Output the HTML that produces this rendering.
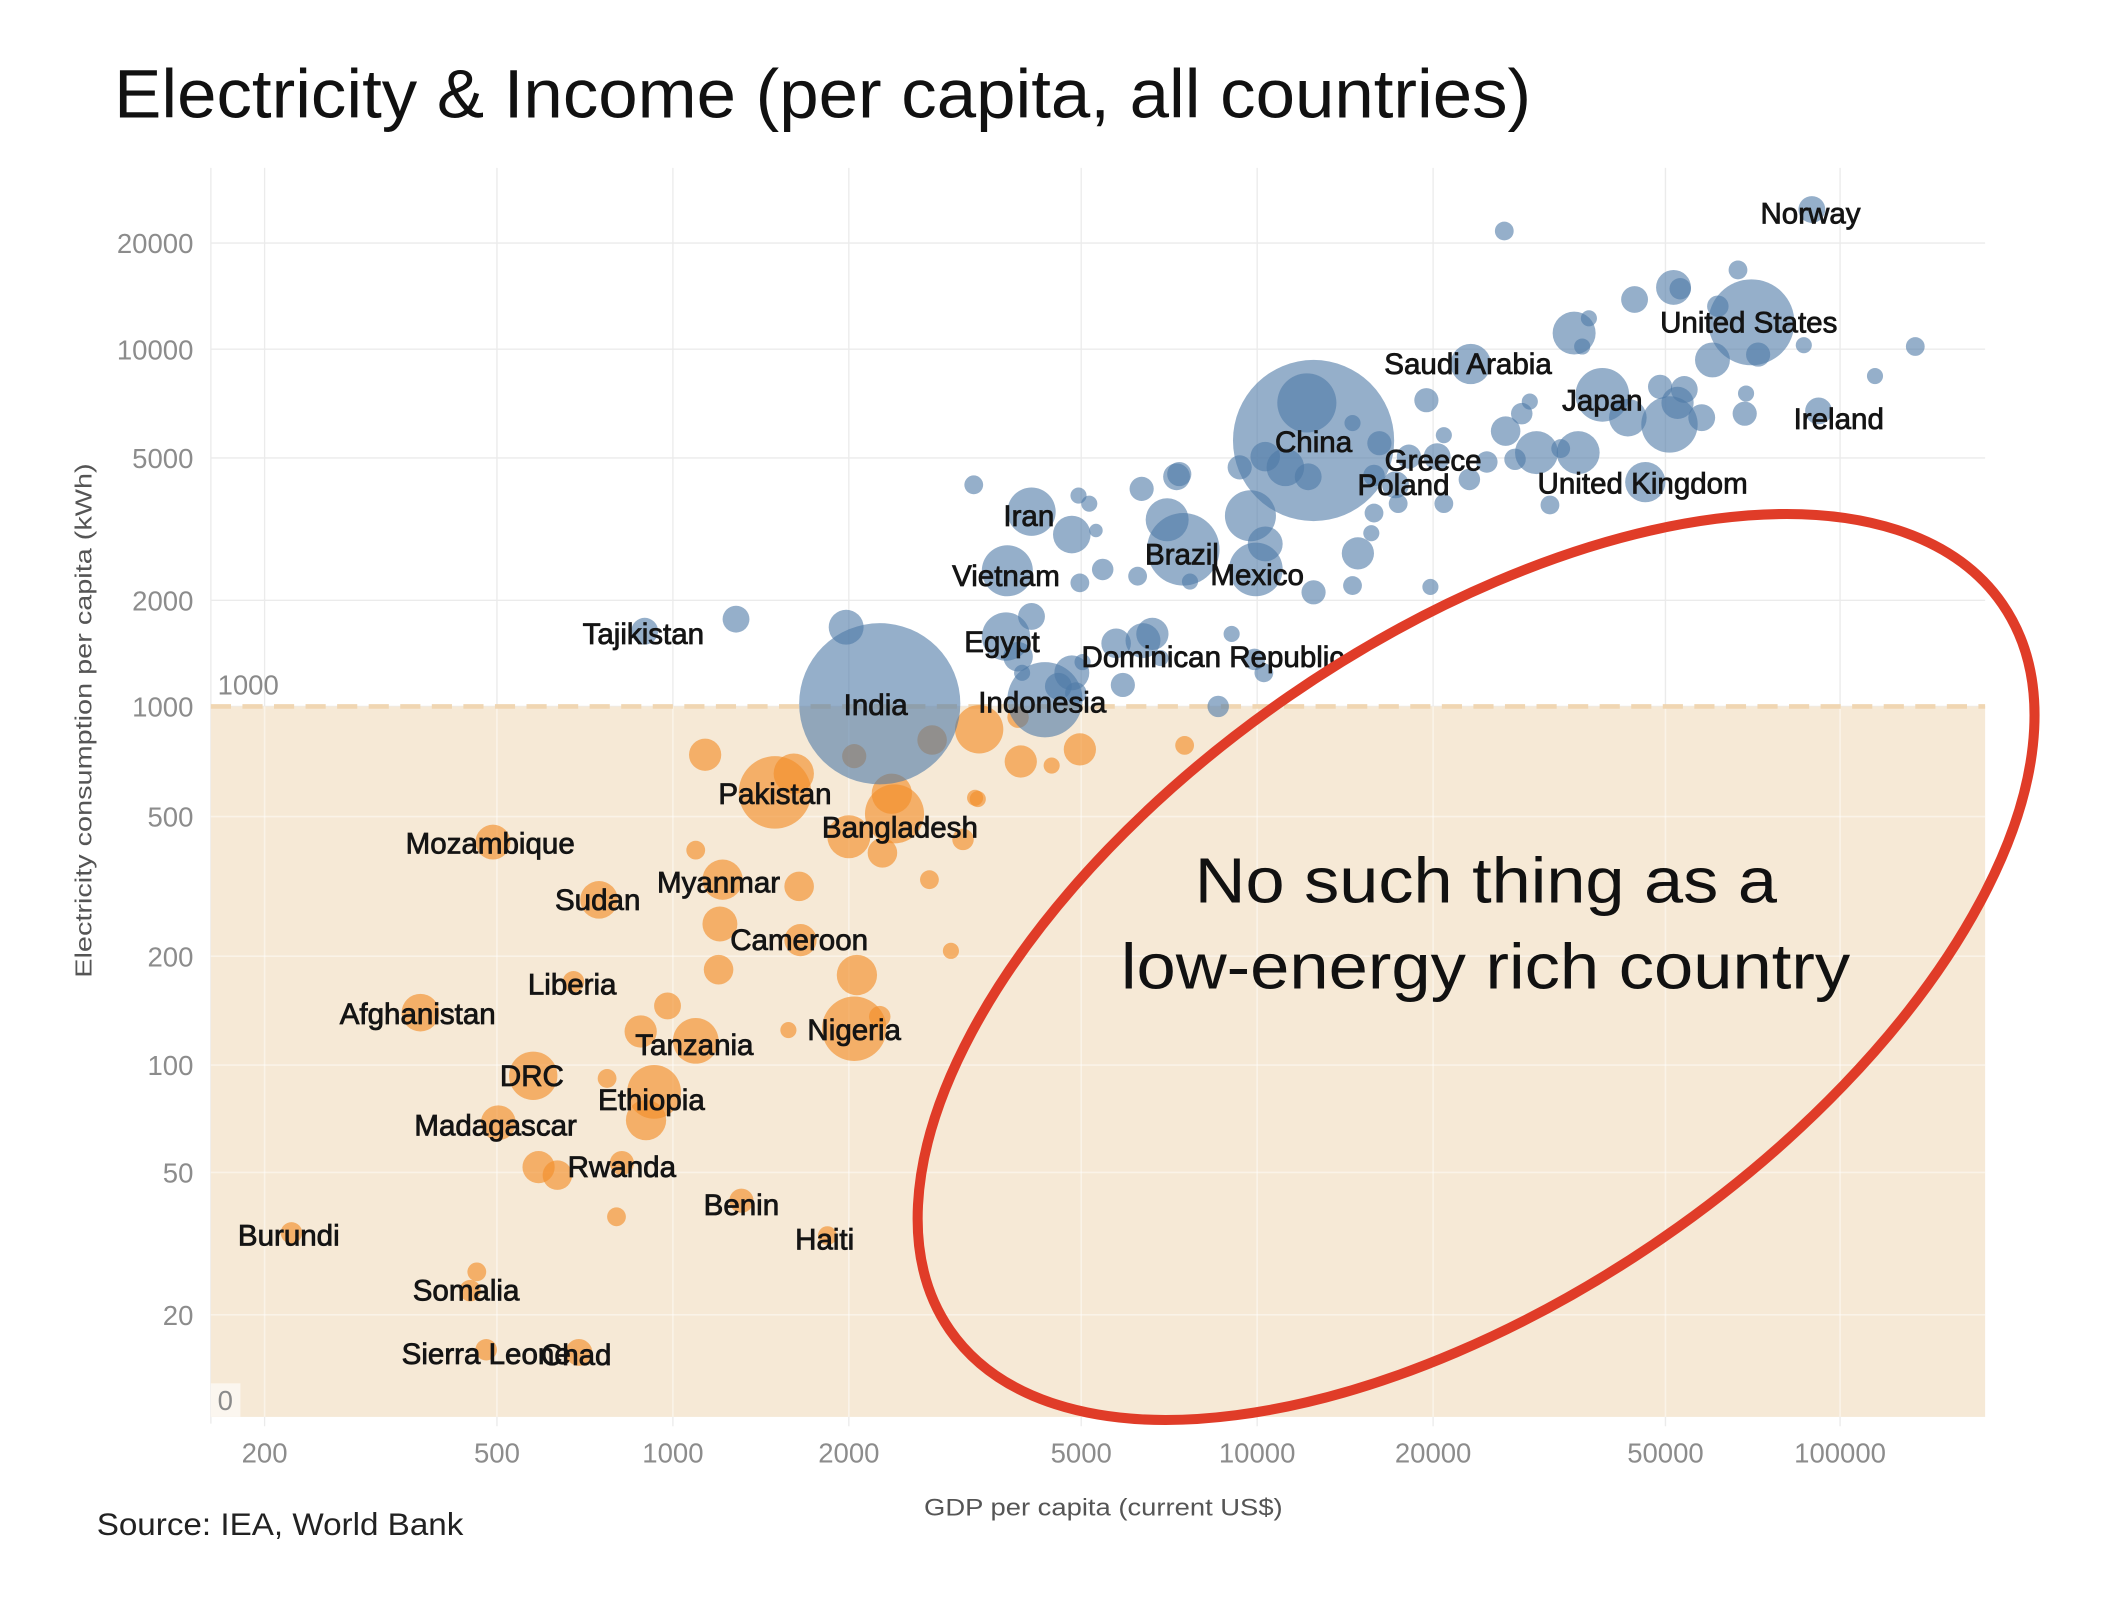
<!DOCTYPE html>
<html>
<head>
<meta charset="utf-8">
<style>
html,body{margin:0;padding:0;background:#fff;}
svg{display:block;}
text{font-family:"Liberation Sans", Arial, sans-serif;}
</style>
</head>
<body>
<svg width="2106" height="1606" viewBox="0 0 1568 1195.8" preserveAspectRatio="none" xmlns="http://www.w3.org/2000/svg">
<rect x="0" y="0" width="1568" height="1196" fill="#ffffff"/>

<!-- Title -->
<text x="85" y="87.5" font-size="51" fill="#111" textLength="1055" lengthAdjust="spacingAndGlyphs">Electricity &amp; Income (per capita, all countries)</text>

<!-- gray gridlines -->
<g stroke="#ebebeb" stroke-width="1">
  <line x1="157" y1="181" x2="1478" y2="181"/>
  <line x1="157" y1="260" x2="1478" y2="260"/>
  <line x1="157" y1="341" x2="1478" y2="341"/>
  <line x1="157" y1="447" x2="1478" y2="447"/>
  <line x1="157" y1="526" x2="1478" y2="526"/>
  <line x1="157" y1="125" x2="157" y2="1060"/>
  <line x1="197" y1="125" x2="197" y2="1062"/>
  <line x1="370" y1="125" x2="370" y2="1062"/>
  <line x1="501" y1="125" x2="501" y2="1062"/>
  <line x1="632" y1="125" x2="632" y2="1062"/>
  <line x1="805" y1="125" x2="805" y2="1062"/>
  <line x1="936" y1="125" x2="936" y2="1062"/>
  <line x1="1067" y1="125" x2="1067" y2="1062"/>
  <line x1="1240" y1="125" x2="1240" y2="1062"/>
  <line x1="1370" y1="125" x2="1370" y2="1062"/>
</g>

<!-- band below 1000 -->
<rect x="157" y="526" width="1321" height="529" fill="#f6e9d6"/>
<g stroke="#ffffff" stroke-opacity="0.45" stroke-width="1.2">
  <line x1="157" y1="608" x2="1478" y2="608"/>
  <line x1="157" y1="712" x2="1478" y2="712"/>
  <line x1="157" y1="793" x2="1478" y2="793"/>
  <line x1="157" y1="873" x2="1478" y2="873"/>
  <line x1="157" y1="979" x2="1478" y2="979"/>
  <line x1="197" y1="526" x2="197" y2="1055"/>
  <line x1="370" y1="526" x2="370" y2="1055"/>
  <line x1="501" y1="526" x2="501" y2="1055"/>
  <line x1="632" y1="526" x2="632" y2="1055"/>
  <line x1="805" y1="526" x2="805" y2="1055"/>
  <line x1="936" y1="526" x2="936" y2="1055"/>
  <line x1="1067" y1="526" x2="1067" y2="1055"/>
  <line x1="1240" y1="526" x2="1240" y2="1055"/>
  <line x1="1370" y1="526" x2="1370" y2="1055"/>
</g>
<line x1="157" y1="526" x2="1478" y2="526" stroke="#f0d6b2" stroke-width="3.5" stroke-dasharray="15 8.5"/>

<!-- band labels -->
<text x="162" y="517" font-size="20.5" fill="#8a8a8a">1000</text>
<rect x="157" y="1030" width="22" height="25" fill="#fbf6ef"/>
<text x="162" y="1050" font-size="20.5" fill="#8a8a8a">0</text>

<!-- Y tick labels -->
<g font-size="20.5" fill="#8c8c8c" text-anchor="end">
  <text x="144" y="188.5">20000</text>
  <text x="144" y="267.5">10000</text>
  <text x="144" y="348.5">5000</text>
  <text x="144" y="454.5">2000</text>
  <text x="144" y="533.5">1000</text>
  <text x="144" y="615.5">500</text>
  <text x="144" y="719.5">200</text>
  <text x="144" y="800.5">100</text>
  <text x="144" y="880.5">50</text>
  <text x="144" y="986.5">20</text>
</g>

<!-- X tick labels -->
<g font-size="20.5" fill="#8c8c8c" text-anchor="middle">
  <text x="197" y="1089">200</text>
  <text x="370" y="1089">500</text>
  <text x="501" y="1089">1000</text>
  <text x="632" y="1089">2000</text>
  <text x="805" y="1089">5000</text>
  <text x="936" y="1089">10000</text>
  <text x="1067" y="1089">20000</text>
  <text x="1240" y="1089">50000</text>
  <text x="1370" y="1089">100000</text>
</g>

<!-- Axis titles -->
<text x="688" y="1128.5" font-size="18" fill="#555" textLength="267" lengthAdjust="spacingAndGlyphs">GDP per capita (current US$)</text>
<text transform="translate(68,728) rotate(-90)" x="0" y="0" font-size="17" fill="#555" textLength="383" lengthAdjust="spacingAndGlyphs">Electricity consumption per capita (kWh)</text>

<!-- Source -->
<text x="72" y="1143" font-size="23.5" fill="#222" textLength="273" lengthAdjust="spacingAndGlyphs">Source: IEA, World Bank</text>

<!-- Orange bubbles -->
<g fill="#f28e2b" fill-opacity="0.64">
  <circle cx="525" cy="562" r="12"/>
  <circle cx="577" cy="590" r="27"/>
  <circle cx="591" cy="576" r="15"/>
  <circle cx="664" cy="591" r="15"/>
  <circle cx="666" cy="606" r="22"/>
  <circle cx="632" cy="623" r="16"/>
  <circle cx="657" cy="635" r="11"/>
  <circle cx="717" cy="625" r="8"/>
  <circle cx="692" cy="655" r="7"/>
  <circle cx="726" cy="594" r="6"/>
  <circle cx="804" cy="558" r="12"/>
  <circle cx="783" cy="570" r="6"/>
  <circle cx="760" cy="567" r="12"/>
  <circle cx="729" cy="543" r="18"/>
  <circle cx="758" cy="534" r="8"/>
  <circle cx="728" cy="595" r="6"/>
  <circle cx="882" cy="555" r="7"/>
  <circle cx="636" cy="563" r="9"/>
  <circle cx="694" cy="551" r="11"/>
  <circle cx="367" cy="627" r="13"/>
  <circle cx="518" cy="633" r="7"/>
  <circle cx="538" cy="655" r="15"/>
  <circle cx="595" cy="660" r="11"/>
  <circle cx="446" cy="670" r="14"/>
  <circle cx="536" cy="688" r="13"/>
  <circle cx="596" cy="700" r="12"/>
  <circle cx="708" cy="708" r="6"/>
  <circle cx="535" cy="722" r="11"/>
  <circle cx="638" cy="726" r="15"/>
  <circle cx="427" cy="731" r="8"/>
  <circle cx="313" cy="754" r="14"/>
  <circle cx="497" cy="749" r="10"/>
  <circle cx="477" cy="768" r="12"/>
  <circle cx="518" cy="775" r="17"/>
  <circle cx="587" cy="767" r="6"/>
  <circle cx="636" cy="766" r="24"/>
  <circle cx="655" cy="757" r="8"/>
  <circle cx="397" cy="801" r="18"/>
  <circle cx="452" cy="803" r="7"/>
  <circle cx="487" cy="813" r="20"/>
  <circle cx="481" cy="834" r="15"/>
  <circle cx="371" cy="836" r="13"/>
  <circle cx="401" cy="869" r="12"/>
  <circle cx="415" cy="875" r="11"/>
  <circle cx="463" cy="866" r="9"/>
  <circle cx="459" cy="906" r="7"/>
  <circle cx="552" cy="894" r="9"/>
  <circle cx="616" cy="920" r="7"/>
  <circle cx="217" cy="918" r="8"/>
  <circle cx="355" cy="947" r="7"/>
  <circle cx="350" cy="961" r="8"/>
  <circle cx="362" cy="1005" r="8"/>
  <circle cx="431" cy="1007" r="10"/>
</g>

<!-- Blue bubbles -->
<g fill="#4e79a7" fill-opacity="0.6">
  <circle cx="1349" cy="156" r="10"/>
  <circle cx="1120" cy="172" r="7"/>
  <circle cx="1294" cy="201" r="7"/>
  <circle cx="1246" cy="214" r="13"/>
  <circle cx="1251" cy="215" r="8"/>
  <circle cx="1217" cy="223" r="10"/>
  <circle cx="1304" cy="240" r="32"/>
  <circle cx="1279" cy="228" r="8"/>
  <circle cx="1309" cy="264" r="9"/>
  <circle cx="1275" cy="268" r="13"/>
  <circle cx="1172" cy="248" r="16"/>
  <circle cx="1183" cy="237" r="6"/>
  <circle cx="1178" cy="258" r="6"/>
  <circle cx="1343" cy="257" r="6"/>
  <circle cx="1426" cy="258" r="7"/>
  <circle cx="1396" cy="280" r="6"/>
  <circle cx="1095" cy="271" r="15"/>
  <circle cx="1062" cy="298" r="9"/>
  <circle cx="1193" cy="294" r="20"/>
  <circle cx="1133" cy="308" r="8"/>
  <circle cx="1139" cy="299" r="6"/>
  <circle cx="1121" cy="321" r="11"/>
  <circle cx="1075" cy="324" r="6"/>
  <circle cx="1236" cy="288" r="9"/>
  <circle cx="1254" cy="290" r="10"/>
  <circle cx="1212" cy="311" r="14"/>
  <circle cx="1243" cy="316" r="21"/>
  <circle cx="1267" cy="311" r="10"/>
  <circle cx="1299" cy="308" r="9"/>
  <circle cx="1300" cy="293" r="6"/>
  <circle cx="1249" cy="300" r="12"/>
  <circle cx="1354" cy="306" r="10"/>
  <circle cx="978" cy="328" r="60"/>
  <circle cx="973" cy="300" r="22"/>
  <circle cx="1007" cy="315" r="6"/>
  <circle cx="1027" cy="330" r="9"/>
  <circle cx="923" cy="348" r="9"/>
  <circle cx="942" cy="340" r="11"/>
  <circle cx="957" cy="348" r="14"/>
  <circle cx="974" cy="355" r="10"/>
  <circle cx="878" cy="353" r="9"/>
  <circle cx="850" cy="364" r="9"/>
  <circle cx="931" cy="384" r="19"/>
  <circle cx="942" cy="405" r="13"/>
  <circle cx="935" cy="424" r="20"/>
  <circle cx="1023" cy="382" r="7"/>
  <circle cx="1021" cy="397" r="6"/>
  <circle cx="1011" cy="412" r="12"/>
  <circle cx="1007" cy="436" r="7"/>
  <circle cx="978" cy="441" r="9"/>
  <circle cx="1065" cy="437" r="6"/>
  <circle cx="1049" cy="340" r="9"/>
  <circle cx="1070" cy="340" r="10"/>
  <circle cx="1023" cy="354" r="8"/>
  <circle cx="1041" cy="375" r="7"/>
  <circle cx="1075" cy="375" r="7"/>
  <circle cx="1039" cy="361" r="10"/>
  <circle cx="1094" cy="357" r="8"/>
  <circle cx="1107" cy="344" r="8"/>
  <circle cx="1144" cy="337" r="16"/>
  <circle cx="1175" cy="337" r="16"/>
  <circle cx="1162" cy="334" r="7"/>
  <circle cx="1128" cy="342" r="8"/>
  <circle cx="1154" cy="376" r="7"/>
  <circle cx="1225" cy="359" r="15"/>
  <circle cx="869" cy="387" r="16"/>
  <circle cx="881" cy="409" r="27"/>
  <circle cx="886" cy="433" r="6"/>
  <circle cx="847" cy="429" r="7"/>
  <circle cx="876" cy="355" r="10"/>
  <circle cx="768" cy="381" r="18"/>
  <circle cx="798" cy="398" r="14"/>
  <circle cx="803" cy="369" r="6"/>
  <circle cx="811" cy="375" r="6"/>
  <circle cx="816" cy="395" r="5"/>
  <circle cx="821" cy="424" r="8"/>
  <circle cx="804" cy="434" r="7"/>
  <circle cx="725" cy="361" r="7"/>
  <circle cx="750" cy="425" r="19"/>
  <circle cx="749" cy="474" r="18"/>
  <circle cx="768" cy="459" r="10"/>
  <circle cx="758" cy="489" r="11"/>
  <circle cx="761" cy="501" r="6"/>
  <circle cx="630" cy="467" r="13"/>
  <circle cx="548" cy="461" r="10"/>
  <circle cx="480" cy="470" r="10"/>
  <circle cx="655" cy="524" r="60"/>
  <circle cx="778" cy="521" r="28"/>
  <circle cx="798" cy="501" r="13"/>
  <circle cx="788" cy="511" r="10"/>
  <circle cx="806" cy="493" r="6"/>
  <circle cx="801" cy="516" r="8"/>
  <circle cx="836" cy="510" r="9"/>
  <circle cx="851" cy="477" r="13"/>
  <circle cx="858" cy="472" r="12"/>
  <circle cx="831" cy="479" r="11"/>
  <circle cx="864" cy="490" r="6"/>
  <circle cx="917" cy="472" r="6"/>
  <circle cx="907" cy="526" r="8"/>
  <circle cx="941" cy="501" r="7"/>
  <circle cx="934" cy="491" r="8"/>
</g>

<!-- Country labels -->
<g font-size="22" fill="#141414" stroke="#141414" stroke-width="0.6" text-anchor="middle">
  <text x="1348" y="166.5">Norway</text>
  <text x="1302" y="247.5">United States</text>
  <text x="1093" y="278.5">Saudi Arabia</text>
  <text x="1193" y="305.5">Japan</text>
  <text x="1369" y="319.5">Ireland</text>
  <text x="978" y="336.5">China</text>
  <text x="1067" y="350.5">Greece</text>
  <text x="1045" y="368.5">Poland</text>
  <text x="1223" y="367.5">United Kingdom</text>
  <text x="766" y="391.5">Iran</text>
  <text x="880" y="420.5">Brazil</text>
  <text x="936" y="435.5">Mexico</text>
  <text x="749" y="436.5">Vietnam</text>
  <text x="479" y="479.5">Tajikistan</text>
  <text x="746" y="485.5">Egypt</text>
  <text x="903" y="496.5">Dominican Republic</text>
  <text x="652" y="532.5">India</text>
  <text x="776" y="530.5">Indonesia</text>
  <text x="577" y="598.5">Pakistan</text>
  <text x="670" y="623.5">Bangladesh</text>
  <text x="365" y="635.5">Mozambique</text>
  <text x="535" y="664.5">Myanmar</text>
  <text x="445" y="677.5">Sudan</text>
  <text x="595" y="707.5">Cameroon</text>
  <text x="426" y="740.5">Liberia</text>
  <text x="311" y="762.5">Afghanistan</text>
  <text x="636" y="774.5">Nigeria</text>
  <text x="517" y="785.5">Tanzania</text>
  <text x="396" y="808.5">DRC</text>
  <text x="485" y="826.5">Ethiopia</text>
  <text x="369" y="845.5">Madagascar</text>
  <text x="463" y="876.5">Rwanda</text>
  <text x="552" y="904.5">Benin</text>
  <text x="215" y="927.5">Burundi</text>
  <text x="614" y="930.5">Haiti</text>
  <text x="347" y="968.5">Somalia</text>
  <text x="362" y="1015.5">Sierra Leone</text>
  <text x="429" y="1016.5">Chad</text>
</g>

<!-- Red ellipse -->
<ellipse cx="1099" cy="720" rx="476" ry="245" transform="rotate(-34.6 1099 720)" fill="none" stroke="#e03c28" stroke-width="7.5"/>

<!-- Annotation -->
<text x="889.5" y="672" font-size="48" fill="#111" textLength="433.5" lengthAdjust="spacingAndGlyphs">No such thing as a</text>
<text x="834.5" y="736" font-size="48" fill="#111" textLength="543" lengthAdjust="spacingAndGlyphs">low-energy rich country</text>
</svg>
</body>
</html>
